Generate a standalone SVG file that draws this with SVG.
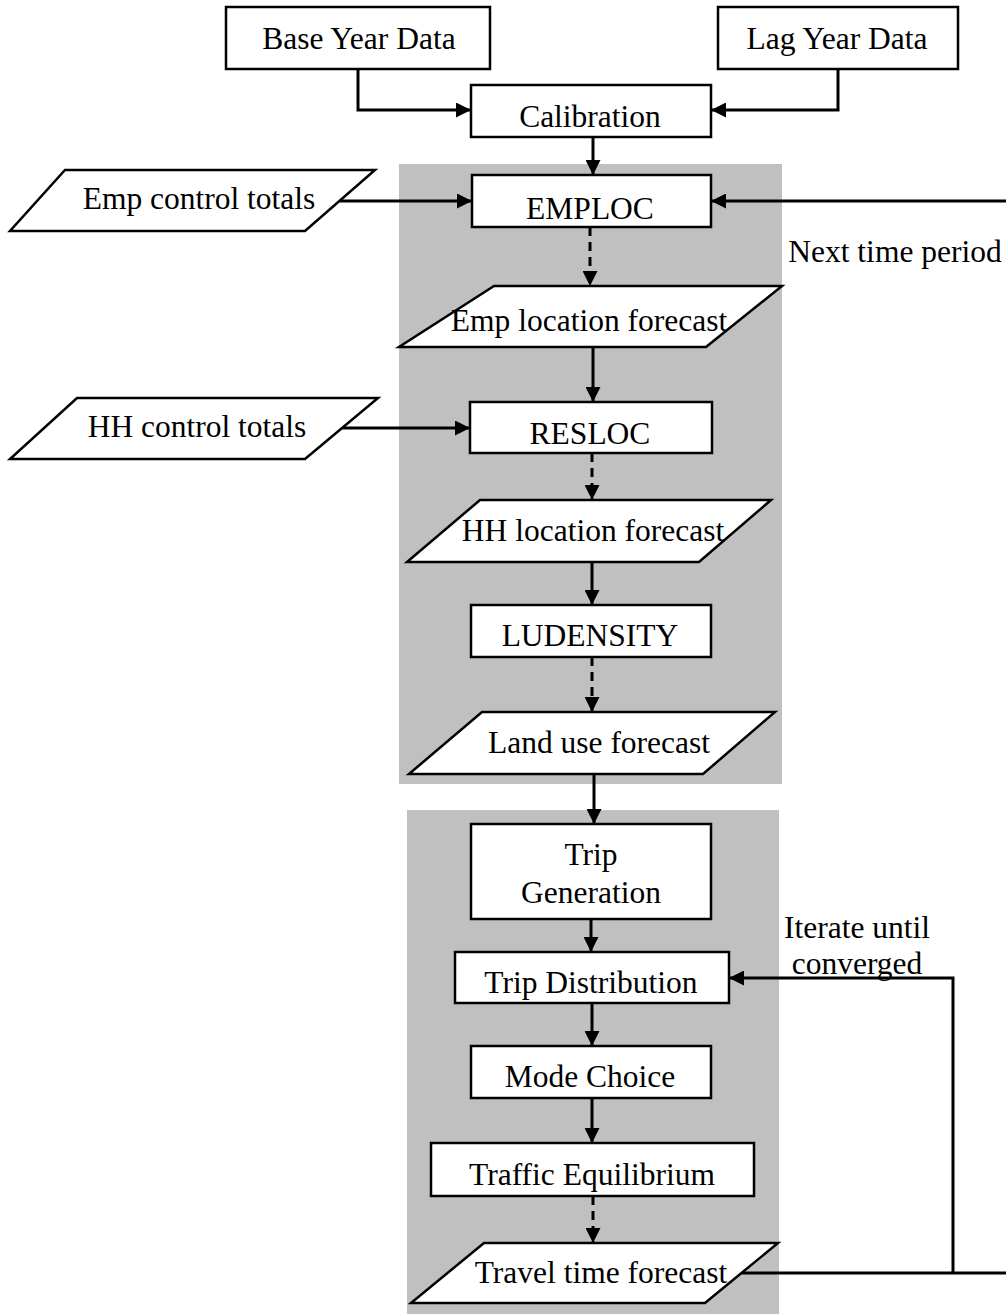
<svg xmlns="http://www.w3.org/2000/svg" width="1006" height="1314" viewBox="0 0 1006 1314">
<style>
text{font-family:"Liberation Serif","Times New Roman",serif;font-size:31.5px;fill:#000;text-anchor:middle}
.box{fill:#fff;stroke:#000;stroke-width:2.5}
.panel{fill:#c0c0c0;stroke:none}
.c{fill:none;stroke:#000;stroke-width:3;marker-end:url(#ah)}
.n{fill:none;stroke:#000;stroke-width:3}
.d{stroke-dasharray:9 6}
</style>
<defs>
<marker id="ah" markerUnits="userSpaceOnUse" markerWidth="16" markerHeight="15" refX="15" refY="7.5" orient="auto">
<path d="M0,0 L15,7.5 L0,15 z" fill="#000"/>
</marker>
</defs>
<rect class="panel" x="399" y="164" width="383" height="620"/>
<rect class="panel" x="407" y="810" width="372" height="504"/>
<g id="connectors">
<path class="c" d="M358,69 V110 H471"/>
<path class="c" d="M838,69 V110 H711"/>
<path class="c" d="M593,137 V175"/>
<path class="c" d="M340,201 H472"/>
<path class="c" d="M1006,201 H711"/>
<path class="c d" d="M590,227 V286"/>
<path class="c" d="M593,347 V402"/>
<path class="c" d="M339,428 H470"/>
<path class="c d" d="M592,453 V500"/>
<path class="c" d="M592,562 V605"/>
<path class="c d" d="M592,657 V712"/>
<path class="c" d="M594,774 V824"/>
<path class="c" d="M591,919 V952"/>
<path class="c" d="M592,1003 V1046"/>
<path class="c" d="M592,1098 V1143"/>
<path class="c d" d="M593,1196 V1243"/>
<path class="n" d="M742,1273 H1006"/>
<path class="c" d="M953,1273 V978 H729"/>
</g>
<g id="base-year-data"><rect class="box" x="226" y="7" width="264" height="62"/><text x="359" y="49">Base Year Data</text></g>
<g id="lag-year-data"><rect class="box" x="718" y="7" width="240" height="62"/><text x="837" y="49">Lag Year Data</text></g>
<g id="calibration"><rect class="box" x="471" y="85" width="240" height="52"/><text x="590" y="127">Calibration</text></g>
<g id="emp-control-totals"><polygon class="box" points="65,170 375,170 305,231 10,231"/><text x="199" y="209">Emp control totals</text></g>
<g id="emploc"><rect class="box" x="472" y="175" width="239" height="52"/><text x="590" y="219">EMPLOC</text></g>
<g id="next-time-period"><text x="895" y="262">Next time period</text></g>
<g id="emp-location-forecast"><polygon class="box" points="494,286 782,286 706,347 399,347"/><text x="589" y="331">Emp location forecast</text></g>
<g id="hh-control-totals"><polygon class="box" points="77,398 378,398 305,459 10,459"/><text x="197" y="437">HH control totals</text></g>
<g id="resloc"><rect class="box" x="470" y="402" width="242" height="51"/><text x="590" y="444">RESLOC</text></g>
<g id="hh-location-forecast"><polygon class="box" points="480,500 771,500 699,562 407,562"/><text x="593" y="541">HH location forecast</text></g>
<g id="ludensity"><rect class="box" x="471" y="605" width="240" height="52"/><text x="590" y="646">LUDENSITY</text></g>
<g id="land-use-forecast"><polygon class="box" points="482,712 775,712 703,774 409,774"/><text x="599" y="753">Land use forecast</text></g>
<g id="trip-generation"><rect class="box" x="471" y="824" width="240" height="95"/><text x="591" y="865">Trip</text><text x="591" y="903">Generation</text></g>
<g id="iterate-label"><text x="857" y="938">Iterate until</text><text x="857" y="974">converged</text></g>
<g id="trip-distribution"><rect class="box" x="455" y="952" width="274" height="51"/><text x="591" y="993">Trip Distribution</text></g>
<g id="mode-choice"><rect class="box" x="471" y="1046" width="240" height="52"/><text x="590" y="1087">Mode Choice</text></g>
<g id="traffic-equilibrium"><rect class="box" x="431" y="1143" width="323" height="53"/><text x="592" y="1185">Traffic Equilibrium</text></g>
<g id="travel-time-forecast"><polygon class="box" points="484,1243 778,1243 705,1303 411,1303"/><text x="601" y="1283">Travel time forecast</text></g>
</svg>
